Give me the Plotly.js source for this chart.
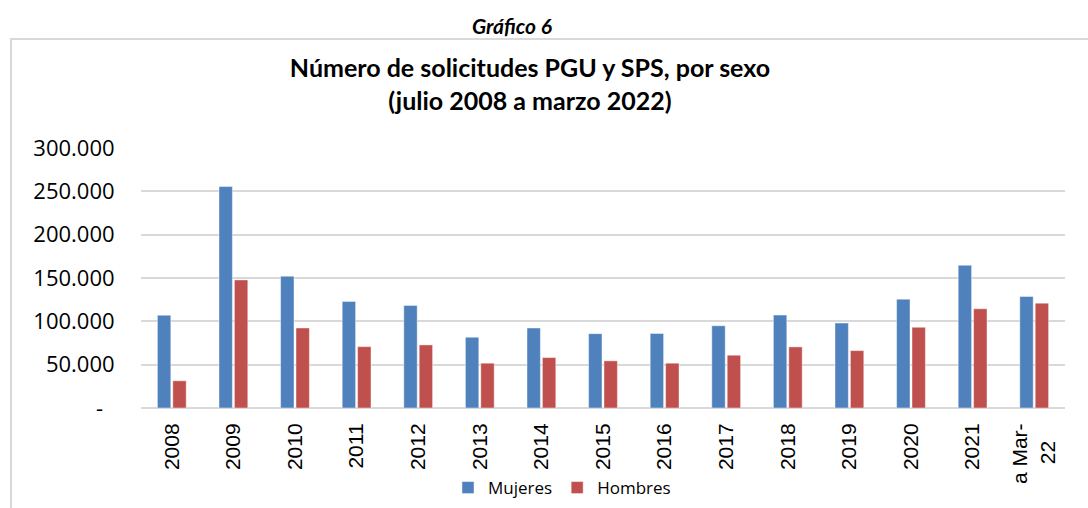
<!DOCTYPE html>
<html>
<head>
<meta charset="utf-8">
<script src="https://cdn.plot.ly/plotly-3.0.1.min.js"></script>
<style>
  html, body { margin: 0; padding: 0; background: #ffffff; }
  #wrap { position: relative; width: 1088px; height: 508px; overflow: hidden; }
  #frame { position: absolute; left: 10px; top: 38px; width: 1100px; height: 520px;
           border: 2px solid #d9d9d9; box-sizing: border-box; pointer-events: none; }
  #chart { position: absolute; left: 0; top: 0; width: 1088px; height: 508px; }
</style>
</head>
<body>
<div id="wrap">
  <div id="frame"></div>
  <div id="chart"></div>
</div>
<script>
// ---- Data ----
const categories = ["2008","2009","2010","2011","2012","2013","2014","2015","2016","2017","2018","2019","2020","2021","a Mar-22"];
const tickLabels = ["2008","2009","2010","2011","2012","2013","2014","2015","2016","2017","2018","2019","2020","2021","a Mar-<br>22\u00a0\u00a0\u00a0"];
const mujeres = [107000, 255500, 152100, 123000, 118400, 81600, 92300, 85800, 86000, 94900, 107200, 98000, 125600, 164700, 128700];
const hombres = [31400, 147800, 92300, 70800, 72800, 51700, 58200, 54400, 51700, 60900, 70500, 66200, 93100, 114500, 121000];
const yTickVals = [0, 50000, 100000, 150000, 200000, 250000, 300000];
const yTickText = ["-\u00a0\u00a0", "50.000", "100.000", "150.000", "200.000", "250.000", "300.000"];

const traces = [
  {
    type: "bar", name: "Mujeres", x: categories, y: mujeres,
    marker: { color: "#4F81BD", line: { color: "rgba(255,255,255,0.55)", width: 0.8 } },
    hoverinfo: "x+y+name"
  },
  {
    type: "bar", name: "Hombres", x: categories, y: hombres,
    marker: { color: "#C0504D", line: { color: "rgba(255,255,255,0.55)", width: 0.8 } },
    hoverinfo: "x+y+name"
  }
];

const layout = {
  width: 1088, height: 508,
  margin: { l: 141, r: 23, t: 148, b: 100, pad: 0, autoexpand: false },
  paper_bgcolor: "rgba(0,0,0,0)",
  plot_bgcolor: "rgba(0,0,0,0)",
  barmode: "group",
  bargap: 0.5,
  bargroupgap: 0.13,
  separators: ",.",
  title: {
    text: "<b>Número de solicitudes PGU y SPS, por sexo</b><br><b>(julio 2008 a marzo 2022)</b>",
    font: { family: "Lato, 'Open Sans', sans-serif", size: 25, color: "#000000" },
    xref: "container", x: 530 / 1088, xanchor: "center",
    yref: "container", y: 1 - 77 / 508, yanchor: "middle"
  },
  annotations: [
    {
      text: "<b><i>Gráfico 6</i></b>",
      xref: "paper", yref: "paper",
      x: (512 - 141) / 924, y: (408 - 26) / 260,
      xanchor: "center", yanchor: "middle", showarrow: false,
      font: { family: "Lato, 'Open Sans', sans-serif", size: 21, color: "#000000" }
    }
  ],
  xaxis: {
    type: "category", automargin: false,
    tickmode: "array", tickvals: categories, ticktext: tickLabels,
    tickangle: -90,
    ticks: "outside", ticklen: 6, tickcolor: "rgba(0,0,0,0)",
    tickfont: { family: "'Liberation Sans', Arial, sans-serif", size: 21, color: "#000000" },
    showgrid: false, showline: false, zeroline: false,
    fixedrange: true
  },
  yaxis: {
    range: [0, 300000], automargin: false,
    tickmode: "array", tickvals: yTickVals, ticktext: yTickText,
    ticks: "outside", ticklen: 21, tickcolor: "rgba(0,0,0,0)",
    tickfont: { family: "'Open Sans', sans-serif", size: 22, color: "#000000" },
    showgrid: true, gridcolor: "#d9d9d9", gridwidth: 2,
    zeroline: true, zerolinecolor: "#d9d9d9", zerolinewidth: 2,
    showline: false, fixedrange: true
  },
  showlegend: true,
  legend: {
    orientation: "h",
    xref: "paper", yref: "container",
    x: (562 - 141) / 924, xanchor: "center",
    y: 1 - 470 / 508, yanchor: "top",
    font: { family: "'Open Sans', sans-serif", size: 17, color: "#000000" },
    bgcolor: "rgba(0,0,0,0)",
    itemwidth: 30, tracegroupgap: 0
  }
};

Plotly.newPlot("chart", traces, layout, { displayModeBar: false, staticPlot: false, responsive: false });
</script>
</body>
</html>
